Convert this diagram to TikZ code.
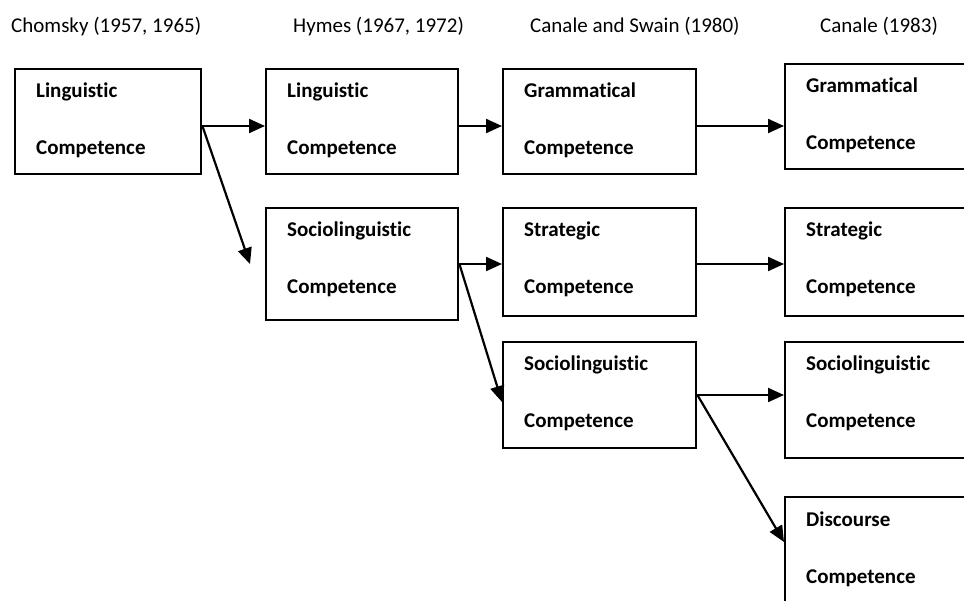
\documentclass[tikz,border=0pt]{standalone}
\usepackage{fontspec}
\setmainfont{Carlito}[Ligatures=NoCommon, RawFeature={-liga}]
\usetikzlibrary{arrows.meta}
\tikzset{
  box/.style={draw=black, line width=2.4pt, rectangle, anchor=north west, inner sep=0pt},
  conn/.style={line width=2.2pt, -{Triangle[length=16pt,width=14pt]}},
  head/.style={anchor=base west, inner sep=0pt, font=\fontsize{21pt}{25pt}\selectfont},
  lbl/.style={anchor=base west, inner sep=0pt, font=\fontsize{21pt}{25pt}\selectfont\bfseries},
}
\newcommand{\boxtext}[3]{%
  \node[lbl] (#1-a) at ([shift={(22pt,-30pt)}]#1.north west) {#2};
  \node[lbl] (#1-b) at ([shift={(22pt,-87pt)}]#1.north west) {#3};
}
\begin{document}
\begin{tikzpicture}
\path[use as bounding box] (0,0) rectangle (964pt,-601pt);
\clip (0,0) rectangle (964pt,-601pt);
\fill[white] (0,0) rectangle (964pt,-601pt);

% column headings
\node[head] (t1) at (11pt,-33pt) {Chomsky (1957, 1965)};
\node[head] (t2) at (293pt,-33pt) {Hymes (1967, 1972)};
\node[head] (t3) at (530pt,-33pt) {Canale and Swain (1980)};
\node[head] (t4) at (820pt,-33pt) {Canale (1983)};

% boxes
\node[box, minimum width=186pt, minimum height=105pt] (c1) at (14pt,-68pt) {};
\node[box, minimum width=192pt, minimum height=105pt] (h1) at (265pt,-68pt) {};
\node[box, minimum width=193pt, minimum height=105pt] (s1) at (502pt,-68pt) {};
\node[box, minimum width=200pt, minimum height=105pt] (k1) at (784pt,-63pt) {};

\node[box, minimum width=192pt, minimum height=112pt] (h2) at (265pt,-207pt) {};
\node[box, minimum width=193pt, minimum height=108pt] (s2) at (502pt,-207pt) {};
\node[box, minimum width=200pt, minimum height=108pt] (k2) at (784pt,-207pt) {};

\node[box, minimum width=193pt, minimum height=106pt] (s3) at (502pt,-341pt) {};
\node[box, minimum width=200pt, minimum height=116pt] (k3) at (784pt,-341pt) {};

\node[box, minimum width=200pt, minimum height=120pt] (k4) at (784pt,-496pt) {};

% texts
\boxtext{c1}{Linguistic}{Competence}
\boxtext{h1}{Linguistic}{Competence}
\boxtext{s1}{Grammatical}{Competence}
\boxtext{k1}{Grammatical}{Competence}
\boxtext{h2}{Sociolinguistic}{Competence}
\boxtext{s2}{Strategic}{Competence}
\boxtext{k2}{Strategic}{Competence}
\boxtext{s3}{Sociolinguistic}{Competence}
\boxtext{k3}{Sociolinguistic}{Competence}
\boxtext{k4}{Discourse}{Competence}

% connector end points
\coordinate (c1o) at ([yshift=-58pt]c1.north east);
\coordinate (h2tip) at ([shift={(-15pt,-57pt)}]h2.north west);
\coordinate (h2o) at ([yshift=-57pt]h2.north east);
\coordinate (s3o) at ([yshift=-54pt]s3.north east);
\coordinate (s3tip) at ([yshift=-61pt]s3.north west);

% connectors
\draw[conn] (c1o) -- ([yshift=-58pt]h1.north west);
\draw[conn] ([yshift=-58pt]h1.north east) -- ([yshift=-58pt]s1.north west);
\draw[conn] ([yshift=-58pt]s1.north east) -- ([yshift=-63pt]k1.north west);
\draw[conn] (c1o) -- (h2tip);
\draw[conn] (h2o) -- ([yshift=-57pt]s2.north west);
\draw[conn] ([yshift=-57pt]s2.north east) -- ([yshift=-57pt]k2.north west);
\draw[conn] (h2o) -- (s3tip);
\draw[conn] (s3o) -- ([yshift=-54pt]k3.north west);
\draw[conn] (s3o) -- ([yshift=-46pt]k4.north west);
\end{tikzpicture}
\end{document}
